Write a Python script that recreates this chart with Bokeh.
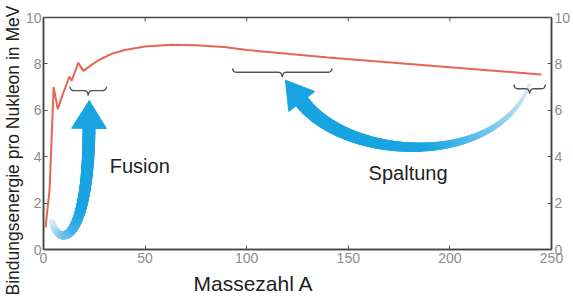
import numpy as np
from bokeh.plotting import figure
from bokeh.models import LinearAxis, Range1d, FixedTicker, Label, Title
from bokeh.embed import file_html
from bokeh.resources import INLINE

# ---------------- data ----------------
mass_number = [1, 3, 5, 7, 9.5, 11.5, 12.7, 13.9, 17.1, 19.6, 24, 28, 34, 40, 50,
               63, 75, 90, 100, 120, 140, 160, 180, 200, 220, 240, 245]
binding_energy = [0.95, 2.6, 7.0, 6.05, 6.7, 7.15, 7.45, 7.28, 8.05, 7.7, 7.98, 8.2, 8.45, 8.6, 8.75,
                  8.83, 8.8, 8.72, 8.6, 8.44, 8.28, 8.14, 8.0, 7.86, 7.72, 7.58, 7.54]

x_ticks = [0, 50, 100, 150, 200, 250]
y_ticks = [0, 2, 4, 6, 8, 10]

# curly braces (A range and level in MeV)
brace_start = [13, 93, 231.5]
brace_end = [31, 142, 247]
brace_level = [6.85, 7.64, 6.93]

# arrow centre-line control points (cubic Bezier, tail -> head base)
fusion_path_x = [4.3, 7.2, 21.9, 22.4]
fusion_path_y = [1.19, 0.1, 0.1, 5.22]
fission_path_x = [239.2, 223.6, 150.1, 127.1]
fission_path_y = [7.11, 3.51, 3.76, 6.38]

label_texts = ["Fusion", "Spaltung"]
label_x = [32.6, 160.0]
label_y = [3.6, 3.3]

x_title = "Massezahl A"
y_title = "Bindungsenergie pro Nukleon in MeV"

# ---------------- layout ----------------
W, H = 573, 298
BL, BR, BT, BB = 43, 19, 17, 48
FW, FH = W - BL - BR, H - BT - BB
SX, SY = FW / 250.0, FH / 10.0

FONT = "Liberation Sans"
RED = "#e66653"
BLUE = (24, 164, 225)
PALE = (228, 240, 250)


def hexc(c):
    return "#%02x%02x%02x" % tuple(int(round(v)) for v in c)


p = figure(width=W, height=H, x_range=Range1d(0, 250), y_range=Range1d(0, 10),
           output_backend="svg", toolbar_location=None,
           min_border_left=BL, min_border_right=BR, min_border_top=BT, min_border_bottom=BB)
p.xgrid.visible = False
p.ygrid.visible = False
p.outline_line_color = "#444444"
p.outline_line_width = 1.5
p.background_fill_color = "white"
p.border_fill_color = "white"


def style_axis(ax, ticks):
    ax.ticker = FixedTicker(ticks=ticks)
    ax.major_tick_in = 4
    ax.major_tick_out = 0
    ax.minor_tick_line_color = None
    ax.axis_line_color = "#444444"
    ax.axis_line_width = 1.5
    ax.major_tick_line_color = "#555555"
    ax.major_label_text_font = FONT
    ax.major_label_text_font_size = "14px"
    ax.major_label_text_color = "#8c8c8c"
    ax.axis_label_standoff = 0


xa = p.xaxis[0]
style_axis(xa, x_ticks)
xa.major_label_standoff = 3

ya = p.yaxis[0]
style_axis(ya, y_ticks)
ya.major_label_standoff = 2

ra = LinearAxis()
style_axis(ra, y_ticks)
ra.major_label_standoff = 3
p.add_layout(ra, "right")

# inward ticks along the top edge of the frame
p.segment(x0=x_ticks, y0=[10] * len(x_ticks), x1=x_ticks, y1=[10 - 4 / SY] * len(x_ticks),
          line_color="#555555", line_width=1)

# axis titles as side titles (outside the axes)
p.add_layout(Title(text=x_title, text_font=FONT, text_font_size="21px", text_font_style="normal",
                   text_color="#222222", align="left", offset=150, standoff=8), "below")
p.add_layout(Title(text=y_title, text_font=FONT, text_font_size="17.5px", text_font_style="normal",
                   text_color="#222222", align="left", offset=-46, standoff=0), "left")


# ---------------- arrows ----------------
def bezier(cx, cy, n):
    t = np.linspace(0, 1, n)
    x = (1 - t) ** 3 * cx[0] + 3 * (1 - t) ** 2 * t * cx[1] + 3 * (1 - t) * t ** 2 * cx[2] + t ** 3 * cx[3]
    y = (1 - t) ** 3 * cy[0] + 3 * (1 - t) ** 2 * t * cy[1] + 3 * (1 - t) * t ** 2 * cy[2] + t ** 3 * cy[3]
    return t, x, y


def arrow(cx, cy, w0, w1, fade_end, head_len, head_half):
    t, x, y = bezier(cx, cy, 160)
    tm = (t[:-1] + t[1:]) / 2
    widths = w0 + (w1 - w0) * tm
    f = np.clip(tm / fade_end, 0, 1) ** 0.9
    colors = [hexc([PALE[i] + (BLUE[i] - PALE[i]) * fi for i in range(3)]) for fi in f]
    p.segment(x0=x[:-1], y0=y[:-1], x1=x[1:], y1=y[1:], line_width=widths,
              line_color=colors, line_cap="round")
    dx = (cx[3] - cx[2]) * SX
    dy = (cy[3] - cy[2]) * SY
    L = np.hypot(dx, dy)
    ux, uy = dx / L, dy / L
    nx, ny = -uy, ux
    bx, by = cx[3], cy[3]
    hx = [bx + nx * head_half / SX, bx + ux * head_len / SX, bx - nx * head_half / SX]
    hy = [by + ny * head_half / SY, by + uy * head_len / SY, by - ny * head_half / SY]
    p.patch(hx, hy, fill_color=hexc(BLUE), line_color=hexc(BLUE), line_width=1)


arrow(fusion_path_x, fusion_path_y, 6, 13, 0.7, 28, 17.5)
arrow(fission_path_x, fission_path_y, 3, 15, 0.5, 27, 16.5)

# ---------------- curve ----------------
p.line(mass_number, binding_energy, line_color=RED, line_width=2)


# ---------------- braces ----------------
def quad(p0, c, p1, n=8):
    t = np.linspace(0, 1, n)
    return ((1 - t) ** 2 * p0[0] + 2 * (1 - t) * t * c[0] + t ** 2 * p1[0],
            (1 - t) ** 2 * p0[1] + 2 * (1 - t) * t * c[1] + t ** 2 * p1[1])


for a0, a1, lev in zip(brace_start, brace_end, brace_level):
    Lp = (a1 - a0) * SX
    m = Lp / 2
    us, vs = [], []
    for seg in [quad((0, -4), (0.5, 0), (4, 0)),
                (np.array([4, m - 4]), np.array([0, 0])),
                quad((m - 4, 0), (m - 0.5, 0), (m, 5)),
                quad((m, 5), (m + 0.5, 0), (m + 4, 0)),
                (np.array([m + 4, Lp - 4]), np.array([0, 0])),
                quad((Lp - 4, 0), (Lp - 0.5, 0), (Lp, -4))]:
        us.extend(list(seg[0]))
        vs.extend(list(seg[1]))
    bx = [a0 + u / SX for u in us]
    by = [lev - v / SY for v in vs]
    p.line(bx, by, line_color="#555555", line_width=1.4)

# ---------------- labels ----------------
for txt, lx, ly in zip(label_texts, label_x, label_y):
    p.add_layout(Label(x=lx, y=ly, text=txt, text_font=FONT, text_font_size="20px",
                       text_color="#222222", text_align="left", text_baseline="middle"))

open("out.html", "w").write(file_html(p, INLINE))
